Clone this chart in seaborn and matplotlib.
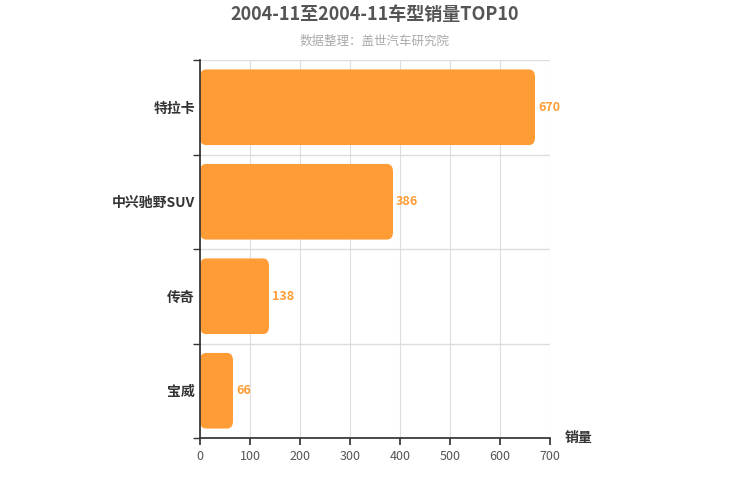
import matplotlib
matplotlib.use("Agg")
import matplotlib.pyplot as plt
import seaborn as sns
import pandas as pd
from matplotlib.patches import FancyBboxPatch

categories = ["特拉卡", "中兴驰野SUV", "传奇", "宝威"]
sales = [670, 386, 138, 66]
xticks = [0, 100, 200, 300, 400, 500, 600, 700]

sns.set_theme(style="whitegrid")
plt.rcParams['font.family'] = ['Noto Sans CJK SC', 'DejaVu Sans']

color = "#FF9C35"
fig = plt.figure(figsize=(7.5, 5), dpi=100)
ax = fig.add_axes([200/750, 1-438/500, 350/750, 378/500])
df = pd.DataFrame({"cat": categories, "val": sales})
sns.barplot(data=df, x="val", y="cat", ax=ax, color=color, width=0.8, saturation=1)

for p in list(ax.patches):
    x, y, w, h = p.get_x(), p.get_y(), p.get_width(), p.get_height()
    p.set_visible(False)
    fb = FancyBboxPatch((x, y), w, h, boxstyle="round,pad=0,rounding_size=0.08",
                        mutation_aspect=1/ (700/378*94.5/1) * 1, facecolor=color, edgecolor="none")
    fb = FancyBboxPatch((x, y), w, h, boxstyle="round,pad=0,rounding_size=12",
                        mutation_aspect=0.08/12, facecolor=color, edgecolor="none")
    ax.add_patch(fb)

for i, v in enumerate(sales):
    ax.text(v + 6, i, str(v), va="center", ha="left", color=color, fontsize=9, fontweight="bold")

ax.set_xlim(0, 700)
ax.set_xticks(xticks)
ax.set_ylim(3.5, -0.5)
ax.set_xlabel("")
ax.set_ylabel("")
ax.grid(True, axis="both", color="#dddddd", linewidth=0.8)
ax.set_yticks([-0.5, 0.5, 1.5, 2.5, 3.5], minor=True)
ax.yaxis.grid(False, which="major")
ax.yaxis.grid(True, which="minor", color="#dddddd")
for s in ["top", "right"]:
    ax.spines[s].set_visible(False)
ax.spines["left"].set_color("#333333")
ax.spines["bottom"].set_color("#333333")
ax.tick_params(axis="y", which="minor", length=5, color="#333333", left=True)
ax.tick_params(axis="y", which="major", length=0, labelsize=10, labelcolor="#333333")
ax.tick_params(axis="x", length=5, color="#333333", bottom=True, labelsize=9, labelcolor="#555555")
for t in ax.get_yticklabels():
    t.set_fontweight("bold")

fig.text(0.5, 1-15/500, "2004-11至2004-11车型销量TOP10", ha="center", va="center",
         fontsize=13, fontweight="bold", color="#555555")
fig.text(0.5, 1-41/500, "数据整理：盖世汽车研究院", ha="center", va="center",
         fontsize=9, color="#aaaaaa")
fig.text(565/750, 1-438/500, "销量", ha="left", va="center", fontsize=10,
         fontweight="bold", color="#333333")

fig.savefig("out.png", dpi=100)
